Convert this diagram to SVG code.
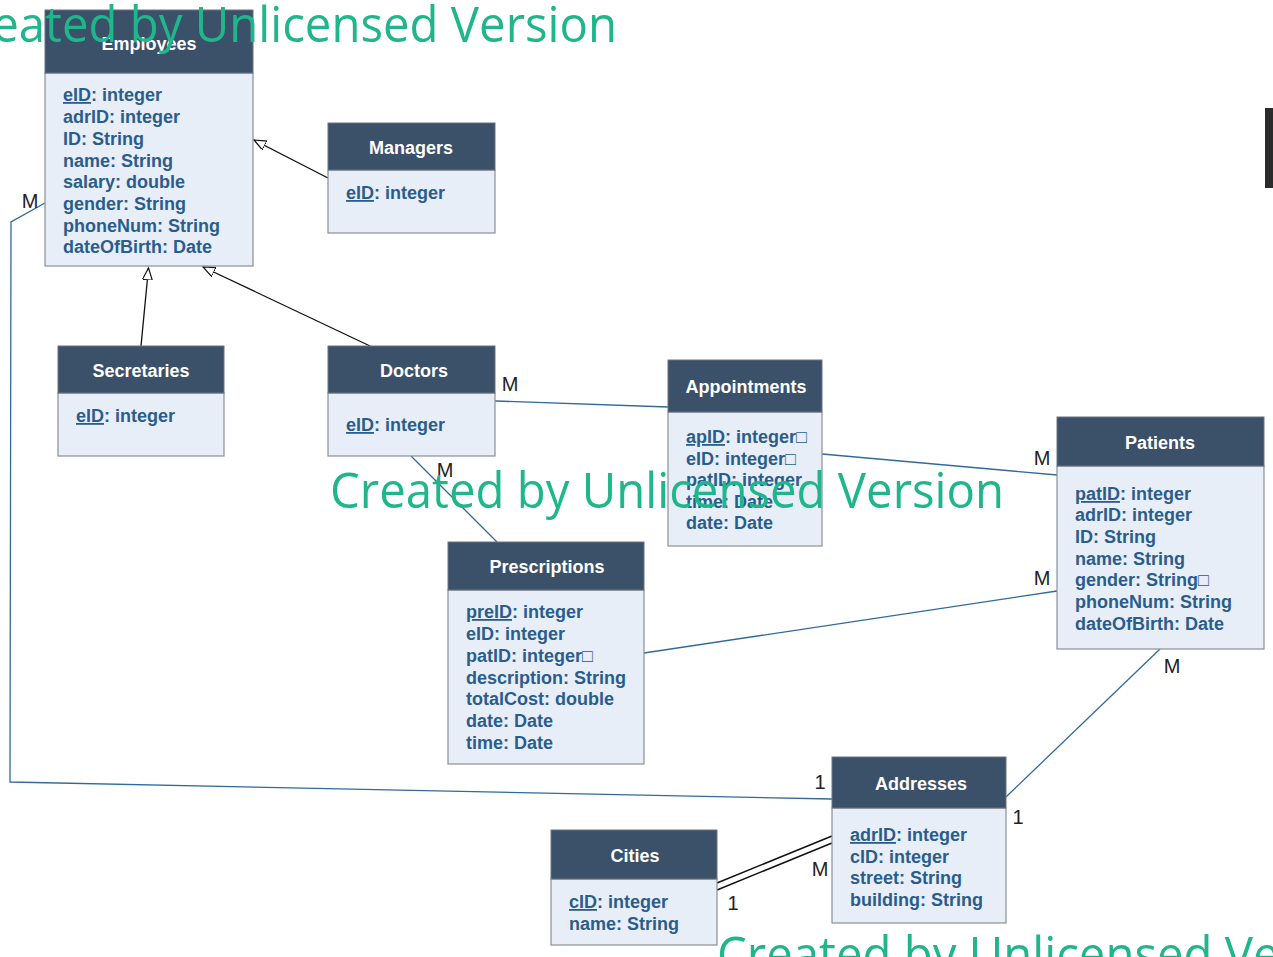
<svg xmlns="http://www.w3.org/2000/svg" width="1273" height="957" viewBox="0 0 1273 957">
<style>
.hd{fill:#3b5069;stroke:#6b7480;stroke-width:1}
.bd{fill:#e8eef8;stroke:#8a8f96;stroke-width:1.2}
.tt{font-family:"Liberation Sans",Arial,sans-serif;font-weight:bold;font-size:18px;fill:#ffffff;text-anchor:middle}
.at{font-family:"Liberation Sans",Arial,sans-serif;font-weight:bold;font-size:18px;fill:#2a5d8d}
.k{text-decoration:underline}
.lb{font-family:"Liberation Sans",Arial,sans-serif;font-size:20px;fill:#222;text-anchor:middle}
.rel{stroke:#2f6a9a;stroke-width:1.3;fill:none}
.inh{stroke:#111;stroke-width:1.3;fill:none;marker-end:url(#tri)}
.blk{stroke:#111;stroke-width:1.5;fill:none}
.wm{font-family:"Open Sans","Noto Sans",sans-serif;font-size:50px;fill:#20b68c}
</style>
<defs>
<marker id="tri" markerUnits="userSpaceOnUse" markerWidth="14" markerHeight="12" refX="12" refY="5" orient="auto">
<path d="M0,0 L12,5 L0,10 Z" fill="#ffffff" stroke="#111" stroke-width="1.2"/>
</marker>
</defs>
<rect x="0" y="0" width="1273" height="957" fill="#ffffff"/>
<rect x="1265" y="108" width="8" height="80" fill="#2b2b2b"/>

<g id="connectors">
<line class="inh" x1="328" y1="178" x2="254" y2="140"/>
<line class="inh" x1="141" y1="346" x2="148.5" y2="268"/>
<line class="inh" x1="370" y1="346" x2="203" y2="267"/>
<line class="rel" x1="495" y1="401" x2="668" y2="407"/>
<line class="rel" x1="822" y1="454" x2="1057" y2="475"/>
<line class="rel" x1="411" y1="456" x2="497" y2="542"/>
<line class="rel" x1="644" y1="653" x2="1057" y2="591"/>
<line class="rel" x1="1160" y1="649" x2="1006" y2="797"/>
<polyline class="rel" points="45,203 11,222 10,782 832,799"/>
<line class="blk" x1="717" y1="883" x2="832" y2="836"/>
<line class="blk" x1="717" y1="890" x2="832" y2="843"/>
</g>

<g id="employees">
<rect class="bd" x="45" y="73" width="208" height="193"/>
<rect class="hd" x="45" y="10" width="208" height="63"/>
<text class="tt" x="149" y="50">Employees</text>
<text class="at" x="63" y="101"><tspan class="k">eID</tspan>: integer</text>
<text class="at" x="63" y="123">adrID: integer</text>
<text class="at" x="63" y="145">ID: String</text>
<text class="at" x="63" y="167">name: String</text>
<text class="at" x="63" y="188">salary: double</text>
<text class="at" x="63" y="210">gender: String</text>
<text class="at" x="63" y="232">phoneNum: String</text>
<text class="at" x="63" y="253">dateOfBirth: Date</text>
</g>

<g id="managers">
<rect class="bd" x="328" y="170" width="167" height="63"/>
<rect class="hd" x="328" y="123" width="167" height="47"/>
<text class="tt" x="411" y="154">Managers</text>
<text class="at" x="346" y="199"><tspan class="k">eID</tspan>: integer</text>
</g>

<g id="secretaries">
<rect class="bd" x="58" y="393" width="166" height="63"/>
<rect class="hd" x="58" y="346" width="166" height="47"/>
<text class="tt" x="141" y="377">Secretaries</text>
<text class="at" x="76" y="422"><tspan class="k">eID</tspan>: integer</text>
</g>

<g id="doctors">
<rect class="bd" x="328" y="393" width="167" height="63"/>
<rect class="hd" x="328" y="346" width="167" height="47"/>
<text class="tt" x="414" y="377">Doctors</text>
<text class="at" x="346" y="431"><tspan class="k">eID</tspan>: integer</text>
</g>

<g id="appointments">
<rect class="bd" x="668" y="412" width="154" height="134"/>
<rect class="hd" x="668" y="360" width="154" height="52"/>
<text class="tt" x="746" y="393">Appointments</text>
<text class="at" x="686" y="443"><tspan class="k">apID</tspan>: integer□</text>
<text class="at" x="686" y="465">eID: integer□</text>
<text class="at" x="686" y="486">patID: integer</text>
<text class="at" x="686" y="508">time: Date</text>
<text class="at" x="686" y="529">date: Date</text>
</g>

<g id="patients">
<rect class="bd" x="1057" y="466" width="207" height="183"/>
<rect class="hd" x="1057" y="417" width="207" height="49"/>
<text class="tt" x="1160" y="449">Patients</text>
<text class="at" x="1075" y="500"><tspan class="k">patID</tspan>: integer</text>
<text class="at" x="1075" y="521">adrID: integer</text>
<text class="at" x="1075" y="543">ID: String</text>
<text class="at" x="1075" y="565">name: String</text>
<text class="at" x="1075" y="586">gender: String□</text>
<text class="at" x="1075" y="608">phoneNum: String</text>
<text class="at" x="1075" y="630">dateOfBirth: Date</text>
</g>

<g id="prescriptions">
<rect class="bd" x="448" y="590" width="196" height="174"/>
<rect class="hd" x="448" y="542" width="196" height="48"/>
<text class="tt" x="547" y="573">Prescriptions</text>
<text class="at" x="466" y="618"><tspan class="k">preID</tspan>: integer</text>
<text class="at" x="466" y="640">eID: integer</text>
<text class="at" x="466" y="662">patID: integer□</text>
<text class="at" x="466" y="684">description: String</text>
<text class="at" x="466" y="705">totalCost: double</text>
<text class="at" x="466" y="727">date: Date</text>
<text class="at" x="466" y="749">time: Date</text>
</g>

<g id="addresses">
<rect class="bd" x="832" y="808" width="174" height="115"/>
<rect class="hd" x="832" y="757" width="174" height="51"/>
<text class="tt" x="921" y="790">Addresses</text>
<text class="at" x="850" y="841"><tspan class="k">adrID</tspan>: integer</text>
<text class="at" x="850" y="863">cID: integer</text>
<text class="at" x="850" y="884">street: String</text>
<text class="at" x="850" y="906">building: String</text>
</g>

<g id="cities">
<rect class="bd" x="551" y="879" width="166" height="66"/>
<rect class="hd" x="551" y="830" width="166" height="49"/>
<text class="tt" x="635" y="862">Cities</text>
<text class="at" x="569" y="908"><tspan class="k">cID</tspan>: integer</text>
<text class="at" x="569" y="930">name: String</text>
</g>

<g id="labels">
<text class="lb" x="510" y="391">M</text>
<text class="lb" x="1042" y="465">M</text>
<text class="lb" x="445" y="477">M</text>
<text class="lb" x="1042" y="585">M</text>
<text class="lb" x="1172" y="673">M</text>
<text class="lb" x="1018" y="824">1</text>
<text class="lb" x="30" y="208">M</text>
<text class="lb" x="820" y="789">1</text>
<text class="lb" x="820" y="876">M</text>
<text class="lb" x="733" y="910">1</text>
</g>

<g id="watermarks">
<text class="wm" x="-57" y="42" textLength="674" lengthAdjust="spacingAndGlyphs">Created by Unlicensed Version</text>
<text class="wm" x="330" y="508" textLength="674" lengthAdjust="spacingAndGlyphs">Created by Unlicensed Version</text>
<text class="wm" x="717" y="972" textLength="674" lengthAdjust="spacingAndGlyphs">Created by Unlicensed Version</text>
</g>
</svg>
